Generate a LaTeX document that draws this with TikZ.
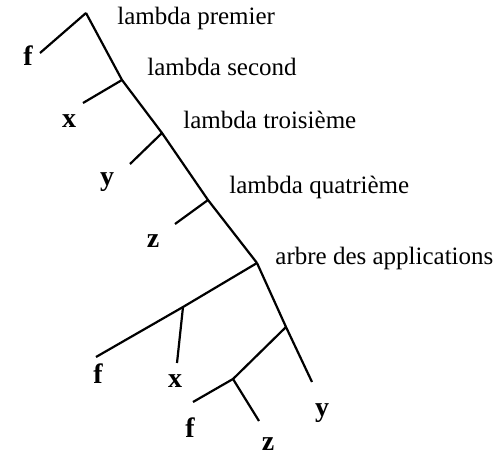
\documentclass[tikz,border=0pt]{standalone}
\usepackage{fontspec}
\setmainfont{Liberation Serif}
\usetikzlibrary{positioning}

\begin{document}
\begin{tikzpicture}[
    x=0.5pt,y=-0.5pt,
    branch/.style={draw,line width=1.1pt},
    lamlabel/.style={anchor=base west,inner sep=0pt,font=\fontsize{12.5}{15}\selectfont},
    leaf/.style={anchor=base,inner sep=0pt,font=\fontsize{14}{16}\selectfont\bfseries}
  ]
    \useasboundingbox (0,0) rectangle (497,454);

    % spine of lambdas
    \coordinate (lamA) at (86,13);
    \coordinate (lamB) at (122,80);
    \coordinate (lamC) at (162,133);
    \coordinate (lamD) at (208,200);
    \coordinate (app) at (257,263);

    \node[lamlabel] (tA) at (117,25) {lambda premier};
    \node[lamlabel] (tB) at (147,76) {lambda second};
    \node[lamlabel] (tC) at (183,129) {lambda troisième};
    \node[lamlabel] (tD) at (229,193) {lambda quatrième};
    \node[lamlabel] (tApp) at (275,264) {arbre des applications};

    % bound variables
    \coordinate (endF) at (40,53);
    \coordinate (endX) at (83,103);
    \coordinate (endY) at (130,164);
    \coordinate (endZ) at (175,224);
    \node[leaf] (vF) at (28,66) {f};
    \node[leaf] (vX) at (69,128) {x};
    \node[leaf] (vY) at (107,185) {y};
    \node[leaf] (vZ) at (153,247) {z};

    \draw[branch] (lamA) -- (lamB) -- (lamC) -- (lamD) -- (app);
    \draw[branch] (lamA) -- (endF);
    \draw[branch] (lamB) -- (endX);
    \draw[branch] (lamC) -- (endY);
    \draw[branch] (lamD) -- (endZ);

    % application tree
    \coordinate (appL) at (183,307);
    \coordinate (appR) at (286,327);
    \coordinate (appRL) at (233,379);
    \coordinate (leafF) at (96,357);
    \coordinate (leafX) at (177,363);
    \coordinate (leafY) at (312,382);
    \coordinate (leafF2) at (193,402);
    \coordinate (leafZ) at (259,421);

    \node[leaf] (aF) at (98,383) {f};
    \node[leaf] (aX) at (175,387) {x};
    \node[leaf] (aY) at (322,416) {y};
    \node[leaf] (aF2) at (190,437) {f};
    \node[leaf] (aZ) at (268,450) {z};

    \draw[branch] (app) -- (appL) -- (leafF);
    \draw[branch] (appL) -- (leafX);
    \draw[branch] (app) -- (appR) -- (leafY);
    \draw[branch] (appR) -- (appRL) -- (leafF2);
    \draw[branch] (appRL) -- (leafZ);
  \end{tikzpicture}
\end{document}
